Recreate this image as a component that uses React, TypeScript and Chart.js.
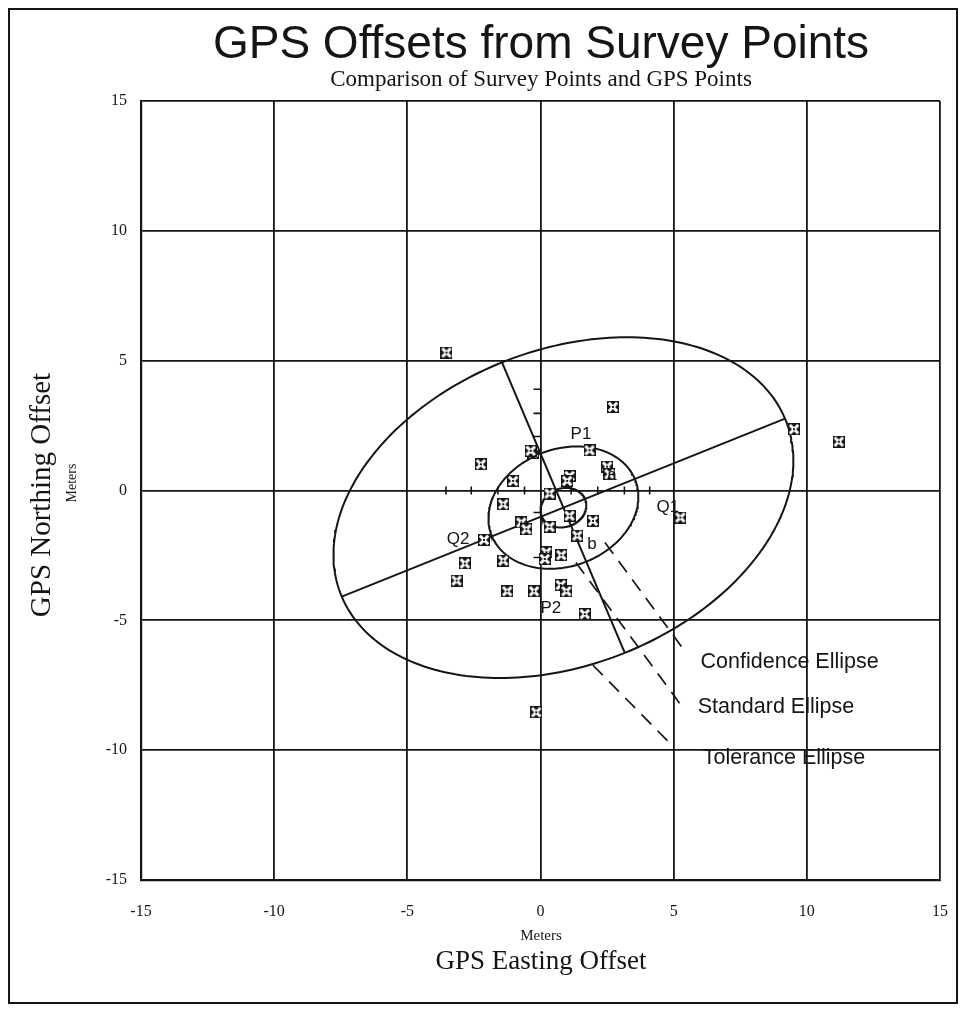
import React, { useEffect, useRef } from "react";
import { Chart, registerables } from "chart.js";

Chart.register(...registerables);

// GPS offsets (metres) of each surveyed point
const gpsEasting = [
  2.72, -2.24, -0.28, -0.37, 1.84, 2.5, 2.59, 1.09, 1.0, -1.03,
  0.34, -1.4, -0.72, -0.53, 1.09, 1.97, 0.34, 1.38, -2.12, 0.22,
  0.16, 0.78, -1.4, -2.84, -3.15, -1.25, -0.24, 0.76, 0.97, 1.66,
  5.25, 9.52, -3.53, 11.2, -0.16,
];
const gpsNorthing = [
  3.22, 1.01, 1.46, 1.53, 1.55, 0.92, 0.63, 0.56, 0.37, 0.37,
  -0.12, -0.53, -1.23, -1.49, -0.97, -1.17, -1.4, -1.74, -1.9, -2.38,
  -2.64, -2.49, -2.7, -2.81, -3.47, -3.88, -3.88, -3.64, -3.88, -4.76,
  -1.04, 2.36, 5.31, 1.88, -8.54,
];

// Error ellipses: shared centre and orientation
const ellipseNames = ["Confidence Ellipse", "Standard Ellipse", "Tolerance Ellipse"];
const ellipseCenter = [0.86, -0.66];
const ellipseSemiMajor = [0.88, 2.9, 9.0];
const ellipseSemiMinor = [0.74, 2.25, 6.05];
const ellipseAngleDeg = 22.4;

// Leader lines from each ellipse to its caption
const leaderStartX = [2.42, 1.33, 1.97];
const leaderStartY = [-2.0, -2.77, -6.73];
const leaderEndX = [5.45, 5.22, 5.0];
const leaderEndY = [-6.23, -8.19, -9.88];
const captionX = [6.01, 5.9, 6.09];
const captionY = [-6.62, -8.35, -10.3];

// Axis-end labels
const axisLabelText = ["P1", "P2", "Q1", "Q2", "a", "b"];
const axisLabelX = [1.52, 0.39, 4.78, -3.09, 2.68, 1.93];
const axisLabelY = [2.15, -4.54, -0.65, -1.88, 0.58, -2.08];

// Metre marks along the zero lines
const eastingMarks = [-3.55, -2.6, -1.6, -0.6, 1.15, 2.15, 3.15, 4.1];
const northingMarks = [3.9, 2.97, 2.08, -0.85, -2.58];

const axisMin = -15;
const axisMax = 15;
const axisStep = 5;

const INK = "#151515";
const PLOT_RIGHT = 940;

function makeMarker(): HTMLCanvasElement {
  const c = document.createElement("canvas");
  c.width = 12;
  c.height = 12;
  const g = c.getContext("2d")!;
  g.fillStyle = INK;
  g.fillRect(0, 0, 12, 12);
  g.strokeStyle = "#fff";
  g.lineWidth = 3;
  g.beginPath();
  g.moveTo(1.8, 1.8);
  g.lineTo(10.2, 10.2);
  g.moveTo(10.2, 1.8);
  g.lineTo(1.8, 10.2);
  g.stroke();
  g.fillStyle = INK;
  g.fillRect(5, 5, 2, 2);
  return c;
}

function ellipsePoints(a: number, b: number) {
  const th = (ellipseAngleDeg * Math.PI) / 180;
  const pts: { x: number; y: number }[] = [];
  const n = 240;
  for (let i = 0; i <= n; i++) {
    const t = (i / n) * Math.PI * 2;
    const u = a * Math.cos(t);
    const v = b * Math.sin(t);
    pts.push({
      x: ellipseCenter[0] + u * Math.cos(th) - v * Math.sin(th),
      y: ellipseCenter[1] + u * Math.sin(th) + v * Math.cos(th),
    });
  }
  return pts;
}

const overlayPlugin = {
  id: "overlay",
  beforeDraw(chart: any) {
    const { ctx, width, height } = chart;
    ctx.save();
    ctx.fillStyle = "#fff";
    ctx.fillRect(0, 0, width, height);
    ctx.restore();
  },
  afterDraw(chart: any) {
    const { ctx, scales } = chart;
    const xs = scales.x;
    const ys = scales.y;
    const px = (v: number) => xs.getPixelForValue(v);
    const py = (v: number) => ys.getPixelForValue(v);
    ctx.save();

    // outer frame
    ctx.strokeStyle = INK;
    ctx.lineWidth = 2;
    ctx.strokeRect(9, 9, 948, 994);

    // metre marks on the zero lines
    ctx.lineWidth = 1.6;
    ctx.beginPath();
    eastingMarks.forEach((v) => {
      ctx.moveTo(px(v), py(0) - 4);
      ctx.lineTo(px(v), py(0) + 4);
    });
    northingMarks.forEach((v) => {
      ctx.moveTo(px(0) - 7, py(v));
      ctx.lineTo(px(0), py(v));
    });
    ctx.stroke();

    ctx.fillStyle = INK;
    ctx.textAlign = "center";
    ctx.textBaseline = "alphabetic";
    ctx.font = "46px 'Liberation Sans', Arial, sans-serif";
    ctx.fillText("GPS Offsets from Survey Points", 541, 58);
    ctx.font = "23px 'Liberation Serif', 'Times New Roman', serif";
    ctx.fillText("Comparison of Survey Points and GPS Points", 541, 86);

    // axis titles
    ctx.textBaseline = "middle";
    ctx.font = "15px 'Liberation Serif', serif";
    ctx.fillText("Meters", 541, 936);
    ctx.font = "27px 'Liberation Serif', serif";
    ctx.fillText("GPS Easting Offset", 541, 962);

    ctx.save();
    ctx.translate(42, 495);
    ctx.rotate(-Math.PI / 2);
    ctx.font = "29px 'Liberation Serif', serif";
    ctx.fillText("GPS Northing Offset", 0, 0);
    ctx.restore();
    ctx.save();
    ctx.translate(72, 483);
    ctx.rotate(-Math.PI / 2);
    ctx.font = "14px 'Liberation Serif', serif";
    ctx.fillText("Meters", 0, 0);
    ctx.restore();

    // axis-end labels
    ctx.font = "17px 'Liberation Sans', Arial, sans-serif";
    axisLabelText.forEach((t, i) => {
      ctx.fillText(t, px(axisLabelX[i]), py(axisLabelY[i]));
    });

    // ellipse captions
    ctx.textAlign = "left";
    ctx.font = "21.5px 'Liberation Sans', Arial, sans-serif";
    ellipseNames.forEach((t, i) => {
      ctx.fillText(t, px(captionX[i]), py(captionY[i]));
    });
    ctx.restore();
  },
};

export default function App() {
  const ref = useRef<HTMLCanvasElement | null>(null);

  useEffect(() => {
    document.body.style.margin = "0";
    const canvas = ref.current;
    if (!canvas) return;
    const marker = makeMarker();
    const th = (ellipseAngleDeg * Math.PI) / 180;
    const aT = ellipseSemiMajor[2];
    const bT = ellipseSemiMinor[2];
    const [cx, cy] = ellipseCenter;

    const lineStyle = {
      showLine: true,
      pointRadius: 0,
      borderColor: INK,
      borderWidth: 2,
      fill: false,
      tension: 0,
      order: 2,
    };

    const datasets: any[] = [
      {
        label: "GPS offsets",
        data: gpsEasting.map((x, i) => ({ x, y: gpsNorthing[i] })),
        pointStyle: marker,
        pointRadius: 6,
        showLine: false,
        order: 0,
      },
      ...ellipseNames.map((name, i) => ({
        ...lineStyle,
        label: name,
        data: ellipsePoints(ellipseSemiMajor[i], ellipseSemiMinor[i]),
      })),
      {
        ...lineStyle,
        label: "Major axis",
        data: [
          { x: cx - aT * Math.cos(th), y: cy - aT * Math.sin(th) },
          { x: cx + aT * Math.cos(th), y: cy + aT * Math.sin(th) },
        ],
      },
      {
        ...lineStyle,
        label: "Minor axis",
        data: [
          { x: cx - bT * Math.sin(th), y: cy + bT * Math.cos(th) },
          { x: cx + bT * Math.sin(th), y: cy - bT * Math.cos(th) },
        ],
      },
      ...leaderStartX.map((x, i) => ({
        ...lineStyle,
        label: "Leader " + (i + 1),
        borderWidth: 1.7,
        borderDash: [14, 9],
        data: [
          { x, y: leaderStartY[i] },
          { x: leaderEndX[i], y: leaderEndY[i] },
        ],
      })),
    ];

    const tickFont = { family: "'Liberation Serif', 'Times New Roman', serif", size: 16 };
    const chart = new Chart(canvas, {
      type: "scatter",
      data: { datasets },
      plugins: [overlayPlugin],
      options: {
        animation: false,
        responsive: false,
        devicePixelRatio: 1,
        layout: { padding: { top: 101, right: 24, left: 0, bottom: 0 } },
        plugins: { legend: { display: false }, tooltip: { enabled: false }, title: { display: false } },
        scales: {
          x: {
            type: "linear",
            min: axisMin,
            max: axisMax,
            ticks: { stepSize: axisStep, color: INK, font: tickFont, padding: 22, maxRotation: 0 },
            grid: { color: INK, lineWidth: 1.8, drawTicks: false },
            border: { color: INK, width: 2.2 },
            afterFit: (s: any) => {
              s.height = 135;
              s.paddingLeft = 0;
              s.paddingRight = 0;
            },
          },
          y: {
            type: "linear",
            min: axisMin,
            max: axisMax,
            ticks: { stepSize: axisStep, color: INK, font: tickFont, padding: 14 },
            grid: { color: INK, lineWidth: 1.8, drawTicks: false },
            border: { color: INK, width: 2.2 },
            afterFit: (s: any) => {
              s.width = 141;
            },
          },
        },
      },
    } as any);

    // keep the plot's right edge where the frame layout expects it
    const drift = chart.chartArea.right - PLOT_RIGHT;
    if (Math.abs(drift) > 0.5) {
      (chart.options as any).layout.padding.right = 24 + drift;
      chart.update();
    }
    return () => chart.destroy();
  }, []);

  return <canvas ref={ref} width={964} height={1015} style={{ display: "block", width: 964, height: 1015 }} />;
}
